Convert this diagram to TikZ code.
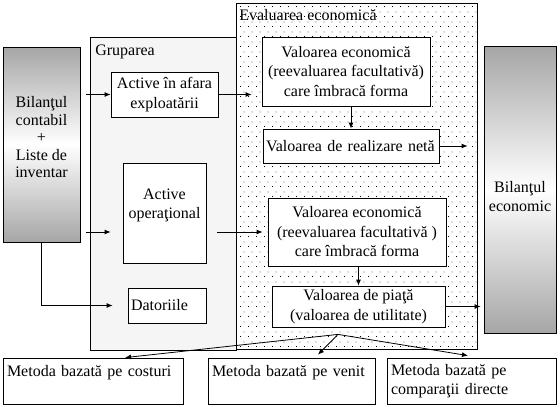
\documentclass[tikz,border=0pt]{standalone}
\usepackage{fontspec}
\setmainfont{Liberation Serif}
\usetikzlibrary{arrows.meta, patterns}

% sparse dots for the evaluation area
\pgfdeclarepatternformonly{sparsedots}{\pgfpointorigin}{\pgfpoint{8pt}{10pt}}{\pgfpoint{8pt}{10pt}}{
  \pgfpathrectangle{\pgfpoint{0pt}{0pt}}{\pgfpoint{1pt}{1pt}}
  \pgfpathrectangle{\pgfpoint{4pt}{5pt}}{\pgfpoint{1pt}{1pt}}
  \pgfusepath{fill}}

\begin{document}
\begin{tikzpicture}[x=1pt, y=-1pt, line width=0.8pt,
    font=\fontsize{16}{19.5}\selectfont,
    box/.style={draw, fill=white, align=center, inner sep=2pt},
    leftbox/.style={draw, fill=white, align=left, inner xsep=4pt, inner ysep=2pt},
    balance/.style={draw, top color=gray!70, bottom color=gray!70, middle color=white},
    arr/.style={-{Latex[length=6pt,width=5pt]}}
]
  \useasboundingbox (0,0) rectangle (560,407);

  % Containers
  \node[draw, fill=black!4, minimum width=146, minimum height=313] (grup) at (163,193.5) {};
  \node[draw, preaction={fill=white}, pattern=sparsedots,
        minimum width=241, minimum height=346] (eval) at (356.5,176) {};
  \node[anchor=west] (gruplbl) at ([xshift=2pt,yshift=-15pt]grup.north west) {Gruparea};
  \node[anchor=west] (evallbl) at ([yshift=-12pt]eval.north west) {Evaluarea economică};

  % Balances
  \node[balance, minimum width=77, minimum height=195] (bilc) at (41.5,144.5) {};
  \node[align=center, font=\fontsize{16}{17.5}\selectfont] (bilctxt) at ([yshift=7pt]bilc.center)
    {Bilanţul\\contabil\\+\\Liste de\\inventar};
  \node[balance, minimum width=72, minimum height=287] (bile) at (520,189.5) {};
  \node[align=center] (biletxt) at ([yshift=-7pt]bile.center) {Bilanţul\\economic};

  % Grouping
  \node[box, minimum width=107, minimum height=45] (act1) at (164.5,94.5) {Active în afara\\exploatării};
  \node[box, minimum width=83, minimum height=100] (act2) at (164.5,213) {};
  \node[align=center] (act2txt) at ([yshift=-43pt]act2.north) {Active\\operaţional};
  \node[leftbox, text width=72, inner xsep=3pt, minimum height=35] (dat) at (167,305.5) {Datoriile};

  % Evaluation
  \node[box, minimum width=168, minimum height=69] (ve1) at (346,71.5)
    {Valoarea economică\\(reevaluarea facultativă)\\care îmbracă forma};
  \node[leftbox, text width=170, inner xsep=3pt, minimum height=34] (vrn) at (351,146)
    {Valoarea de realizare netă};
  \node[box, minimum width=178, minimum height=68] (ve2) at (357,232)
    {Valoarea economică\\(reevaluarea facultativă )\\care îmbracă forma};
  \node[box, minimum width=173, minimum height=41] (vp) at (358.5,306.5)
    {Valoarea de piaţă\\(valoarea de utilitate)};

  % Methods
  \node[leftbox, text width=172, minimum height=46] (m1) at (93,381) {Metoda bazată pe costuri\\\mbox{}};
  \node[leftbox, text width=159, minimum height=46] (m2) at (291.5,381) {Metoda bazată pe venit\\\mbox{}};
  \node[leftbox, text width=161, minimum height=46] (m3) at (471.5,381) {Metoda bazată pe\\comparaţii directe};

  % Arrows
  \draw[arr, shorten <=6pt] (bilc.east |- act1.west) -- (act1.west);
  \draw[arr, shorten >=10pt] (act1.east) -- (act1.east -| ve1.west);
  \draw[arr] (vrn.north |- ve1.south) -- (vrn.north);
  \draw[arr, shorten >=16pt] (vrn.east) -- (vrn.east -| bile.west);
  \draw[arr, shorten <=6pt, shorten >=12pt] (bilc.east |- ve2.west) -- (act2.west |- ve2.west);
  \draw[arr, shorten <=11pt, shorten >=5pt] (act2.east |- ve2.west) -- (ve2.west);
  \draw[arr, shorten >=15pt] (bilc.south) |- (dat.west);
  \draw[arr] (vp.north |- ve2.south) -- (vp.north);
  \draw[arr, shorten >=3pt] (vp.east) -- (vp.east -| bile.west);
  \coordinate (fork) at ([xshift=-20.5pt,yshift=-7pt]vp.south);
  \draw[arr] (fork) -- ([xshift=32pt]m1.north);
  \draw[arr] (fork) -- ([xshift=26.5pt,yshift=3pt]m2.north);
  \draw[arr] (fork) -- ([xshift=-3.5pt,yshift=2pt]m3.north);
\end{tikzpicture}
\end{document}
